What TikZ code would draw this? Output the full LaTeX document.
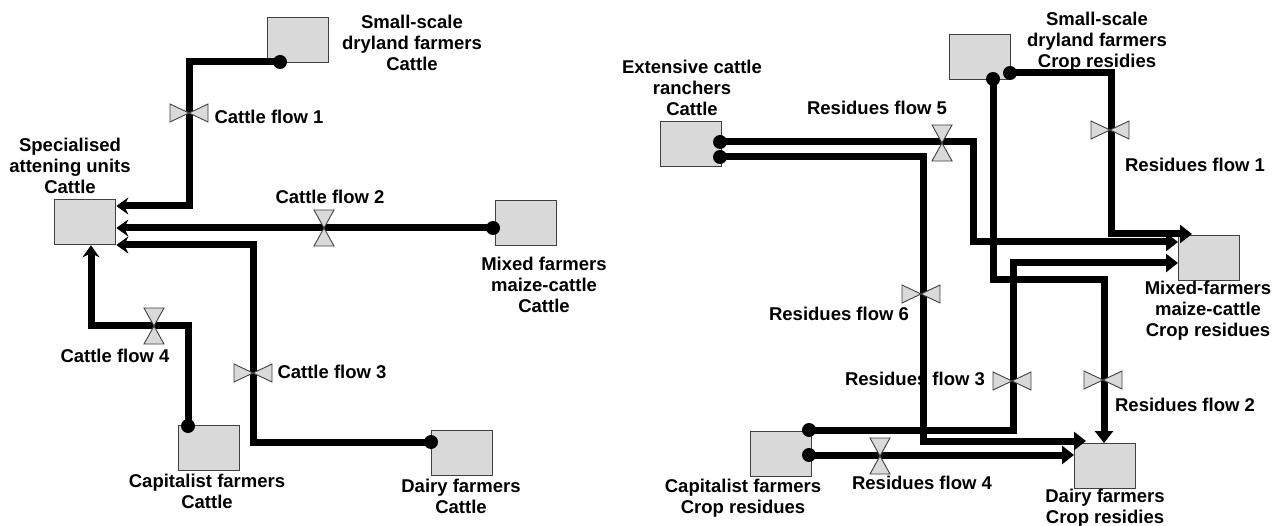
\documentclass[tikz,border=0pt]{standalone}
\usepackage{fontspec}
\setmainfont{Liberation Sans}
\usetikzlibrary{arrows.meta,calc}
\definecolor{boxgray}{HTML}{D9D9D9}
\definecolor{edgegray}{HTML}{404040}
\tikzset{
  hvalve/.pic={\filldraw[valve] (-19,-9)--(-19,9)--(0,0)--cycle (19,-9)--(19,9)--(0,0)--cycle;},
  vvalve/.pic={\filldraw[valve] (-10,-18)--(10,-18)--(0,0)--cycle (-10,18)--(10,18)--(0,0)--cycle;}
}
\begin{document}
\begin{tikzpicture}[x=1pt,y=-1pt,
  box/.style={draw=edgegray, line width=1.3pt, fill=boxgray, minimum width=61pt, minimum height=45pt, inner sep=0pt, anchor=north west},
  lbl/.style={font=\fontsize{18.5}{21}\selectfont\bfseries, align=center, inner sep=0pt},
  flow/.style={line width=7pt, draw=black},
  arrL/.style={-{Stealth[length=12pt,width=17pt,inset=4pt]}},
  arrR/.style={-{Triangle[length=12pt,width=18pt]}},
  fdot/.style={circle, fill=black, inner sep=0pt, minimum size=14pt},
  valve/.style={fill=boxgray, draw=edgegray, line width=0.9pt},
]
\useasboundingbox (0,0) rectangle (1284,526);

% ---------------- left diagram ----------------
\node[box] (sau) at (54,199) {};
\node[box] (ssd) at (267,17) {};
\node[box] (mf) at (495,200) {};
\node[box] (cap) at (178,425) {};
\node[box] (dairy) at (431,430) {};

\node[lbl] (sauL) at (70,166) {Specialised\\attening units\\Cattle};
\node[lbl] (ssdL) at (412,43) {Small-scale\\dryland farmers\\Cattle};
\node[lbl] (mfL) at (544,285) {Mixed farmers\\maize-cattle\\Cattle};
\node[lbl] (capL) at (207,491) {Capitalist farmers\\Cattle};
\node[lbl] (dairyL) at (461,496) {Dairy farmers\\Cattle};
\node[lbl] (f1L) at (269,117) {Cattle flow 1};
\node[lbl] (f2L) at (330,197) {Cattle flow 2};
\node[lbl] (f3L) at (332,372) {Cattle flow 3};
\node[lbl] (f4L) at (115,356) {Cattle flow 4};

\node[fdot] (d1) at (280,62) {};
\node[fdot] (d2) at (493,228) {};
\node[fdot] (d3) at (431,442) {};
\node[fdot] (d4) at (188,426) {};

\draw[flow,arrL] (d1.center) -| (189,206) -- (sau.east |- 0,206);
\draw[flow,arrL] (d2.center) -- (sau.east |- 0,228);
\draw[flow,arrL] (d3.center) -| (253,245) -- (sau.east |- 0,245);
\draw[flow,arrL] (d4.center) |- (91,326) -- (sau.south -| 91,0);

\pic at (189,113) {hvalve};
\pic at (324,228) {vvalve};
\pic at (253,373) {hvalve};
\pic at (154,326) {vvalve};

% ---------------- right diagram ----------------
\node[box] (ext) at (660,121) {};
\node[box] (ssd2) at (949,34) {};
\node[box] (mf2) at (1178,235) {};
\node[box] (cap2) at (750,431) {};
\node[box] (dairy2) at (1074,443) {};

\node[lbl] (extL) at (692,88) {Extensive cattle\\ranchers\\Cattle};
\node[lbl] (ssd2L) at (1097,42) {Small-scale\\dryland farmers\\Crop residies};
\node[lbl] (mf2L) at (1208,311) {Mixed-farmers\\maize-cattle\\Crop residues};
\node[lbl] (cap2L) at (743,498) {Capitalist farmers\\Crop residues};
\node[lbl] (dairy2L) at (1105,508) {Dairy farmers\\Crop residies};
\node[lbl] (r5L) at (877,108) {Residues flow 5};
\node[lbl] (r1L) at (1195,165) {Residues flow 1};
\node[lbl] (r6L) at (839,314) {Residues flow 6};
\node[lbl] (r3L) at (915,379) {Residues flow 3};
\node[lbl] (r2L) at (1185,405) {Residues flow 2};
\node[lbl] (r4L) at (922,483) {Residues flow 4};

\node[fdot] (e1) at (720,142) {};
\node[fdot] (e2) at (720,157) {};
\node[fdot] (s1) at (1010,73) {};
\node[fdot] (s2) at (993,79) {};
\node[fdot] (p1) at (809,430) {};
\node[fdot] (p2) at (809,455) {};

\draw[flow,arrR] (e1.center) -| (973,242) -- (mf2.west |- 0,242);
\draw[flow,arrR] (s1.center) -| (1111,234) -- ($(mf2.north west)+(14,-1)$);
\draw[flow,arrR] (e2.center) -| (923,441) -- ($(dairy2.north west)+(12,-2)$);
\draw[flow,arrR] (p1.center) -| (1013,263) -- (mf2.west |- 0,263);
\draw[flow,arrR] (s2.center) |- (1104,280) -- (dairy2.north -| 1104,0);
\draw[flow,arrR] (p2.center) -- (dairy2.west |- 0,455);

\pic at (1110,130) {hvalve};
\pic at (942,143) {vvalve};
\pic at (921,294) {hvalve};
\pic at (1012,381) {hvalve};
\pic at (1103,380) {hvalve};
\pic at (880,456) {vvalve};
\end{tikzpicture}
\end{document}
